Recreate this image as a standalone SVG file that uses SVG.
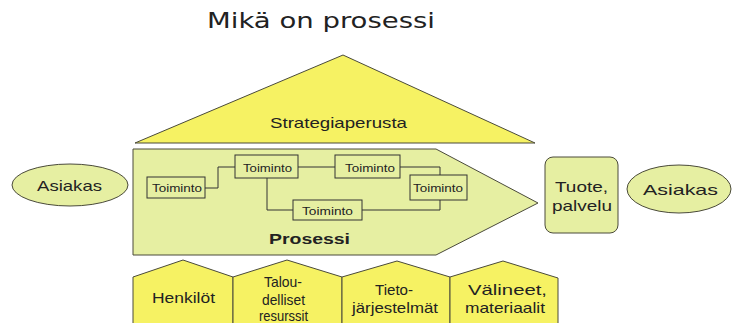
<svg xmlns="http://www.w3.org/2000/svg" width="732" height="323" viewBox="0 0 732 323">
<style>
text{font-family:"Liberation Sans",Arial,sans-serif;fill:#222;text-anchor:middle}
.y{fill:#f6f263;stroke:#4a4a3a;stroke-width:1}
.g{fill:#e6efa2;stroke:#4a4a3a;stroke-width:1}
.box{fill:#e6efa2;stroke:#333;stroke-width:1}
.ln{fill:none;stroke:#333;stroke-width:1}
.t{font-size:10.5px}
.m{font-size:15px}
</style>
<rect width="732" height="323" fill="#ffffff"/>
<text x="321" y="28" style="font-family:'DejaVu Sans',sans-serif;font-size:21px" textLength="228" lengthAdjust="spacingAndGlyphs">Mikä on prosessi</text>
<g id="strategiaperusta">
<polygon class="y" points="343,55 535,143 135,143"/>
<text x="270" y="128" style="font-size:14.5px;text-anchor:start" textLength="137" lengthAdjust="spacingAndGlyphs">Strategiaperusta</text>
</g>
<g id="prosessi">
<polygon class="g" points="133,149 436,149 538,203 436,255 133,255"/>
<text x="269" y="244" style="font-size:14px;font-weight:bold;text-anchor:start" textLength="81" lengthAdjust="spacingAndGlyphs">Prosessi</text>
</g>
<g id="connectors">
<polyline class="ln" points="205,188 218,188 218,167 235,167"/>
<line class="ln" x1="298" y1="167" x2="335" y2="167"/>
<polyline class="ln" points="400,167 440,167 440,175"/>
<polyline class="ln" points="267,178 267,210 293,210"/>
<polyline class="ln" points="362,210 440,210 440,200"/>
</g>
<g id="toiminto1">
<rect class="box" x="147" y="177" width="58" height="21"/>
<text class="t" x="152" y="192" style="text-anchor:start" textLength="50" lengthAdjust="spacingAndGlyphs">Toiminto</text>
</g>
<g id="toiminto2">
<rect class="box" x="235" y="155" width="63" height="23"/>
<text class="t" x="243" y="172" style="text-anchor:start" textLength="49" lengthAdjust="spacingAndGlyphs">Toiminto</text>
</g>
<g id="toiminto3">
<rect class="box" x="335" y="155" width="65" height="23"/>
<text class="t" x="345" y="172" style="text-anchor:start" textLength="50" lengthAdjust="spacingAndGlyphs">Toiminto</text>
</g>
<g id="toiminto4">
<rect class="box" x="410" y="175" width="57" height="25"/>
<text class="t" x="413" y="192" style="text-anchor:start" textLength="50" lengthAdjust="spacingAndGlyphs">Toiminto</text>
</g>
<g id="toiminto5">
<rect class="box" x="293" y="200" width="69" height="20"/>
<text class="t" x="302" y="215" style="text-anchor:start" textLength="51" lengthAdjust="spacingAndGlyphs">Toiminto</text>
</g>
<g id="asiakas-left">
<ellipse class="g" cx="70" cy="185" rx="58" ry="21"/>
<text class="m" x="37" y="191" style="text-anchor:start" textLength="65" lengthAdjust="spacingAndGlyphs">Asiakas</text>
</g>
<g id="tuote">
<rect class="g" x="545" y="157" width="73" height="76" rx="8"/>
<text class="m" x="555" y="192" style="text-anchor:start" textLength="53" lengthAdjust="spacingAndGlyphs">Tuote,</text>
<text class="m" x="552" y="211" style="text-anchor:start" textLength="60" lengthAdjust="spacingAndGlyphs">palvelu</text>
</g>
<g id="asiakas-right">
<ellipse class="g" cx="679" cy="189" rx="52" ry="24"/>
<text class="m" x="643" y="195" style="text-anchor:start" textLength="75" lengthAdjust="spacingAndGlyphs">Asiakas</text>
</g>
<g id="henkilot">
<polygon class="y" points="133,277 183,260 233,277 233,330 133,330"/>
<text class="m" x="152" y="303" style="text-anchor:start" textLength="63" lengthAdjust="spacingAndGlyphs">Henkilöt</text>
</g>
<g id="taloudelliset">
<polygon class="y" points="233,277 287,260 342,277 342,330 233,330"/>
<text class="m" x="264" y="287" style="text-anchor:start" textLength="38" lengthAdjust="spacingAndGlyphs">Talou-</text>
<text class="m" x="262" y="305" style="text-anchor:start" textLength="43" lengthAdjust="spacingAndGlyphs">delliset</text>
<text class="m" x="259" y="321" style="text-anchor:start" textLength="49" lengthAdjust="spacingAndGlyphs">resurssit</text>
</g>
<g id="tietojarjestelmat">
<polygon class="y" points="342,277 397,261 450,277 450,330 342,330"/>
<text class="m" x="375" y="295" style="text-anchor:start" textLength="38" lengthAdjust="spacingAndGlyphs">Tieto-</text>
<text class="m" x="352" y="313" style="text-anchor:start" textLength="86" lengthAdjust="spacingAndGlyphs">järjestelmät</text>
</g>
<g id="valineet">
<polygon class="y" points="450,277 503,261 558,278 558,330 450,330"/>
<text class="m" x="468" y="295" style="text-anchor:start" textLength="79" lengthAdjust="spacingAndGlyphs">Välineet,</text>
<text class="m" x="465" y="313" style="text-anchor:start" textLength="80" lengthAdjust="spacingAndGlyphs">materiaalit</text>
</g>
</svg>
